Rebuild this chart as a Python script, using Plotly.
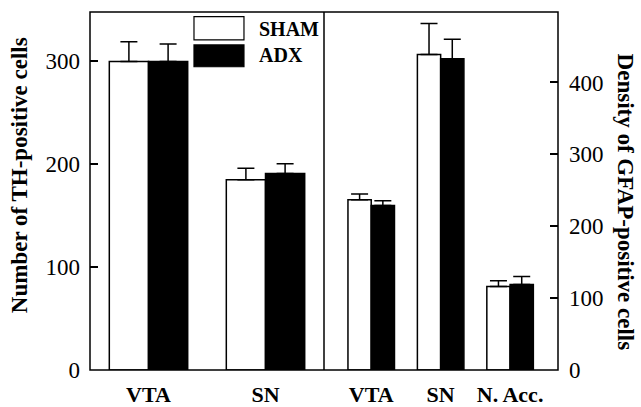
import plotly.graph_objects as go

# ---- data ----
series_names = ["SHAM", "ADX"]
th_categories = ["VTA", "SN"]
th_sham = [300, 185]
th_sham_err = [19, 11]
th_adx = [300, 191]
th_adx_err = [17, 9.5]

gfap_categories = ["VTA", "SN", "N. Acc."]
gfap_sham = [237, 439, 116]
gfap_sham_err = [8, 43, 8]
gfap_adx = [229, 433, 119]
gfap_adx_err = [6.5, 27, 11]

left_ticks = [0, 100, 200, 300]
right_ticks = [0, 100, 200, 300, 400]
left_title = "Number of TH-positive cells"
right_title = "Density of GFAP-positive cells"

FONT = "Liberation Serif"
fills = ["white", "black"]

fig = go.Figure()

def err(arr):
    return dict(type="data", symmetric=False, array=arr, arrayminus=[0] * len(arr),
                color="black", thickness=1.5, width=8.5)

fig.add_trace(go.Bar(x=th_categories, y=th_sham, name=series_names[0], marker=dict(color=fills[0], line=dict(color="black", width=1.5)),
                     error_y=err(th_sham_err), xaxis="x", yaxis="y", showlegend=False))
fig.add_trace(go.Bar(x=th_categories, y=th_adx, name=series_names[1], marker=dict(color=fills[1], line=dict(color="black", width=1.5)),
                     error_y=err(th_adx_err), xaxis="x", yaxis="y", showlegend=False))
fig.add_trace(go.Bar(x=gfap_categories, y=gfap_sham, name=series_names[0], marker=dict(color=fills[0], line=dict(color="black", width=1.5)),
                     error_y=err(gfap_sham_err), xaxis="x2", yaxis="y2", showlegend=False))
fig.add_trace(go.Bar(x=gfap_categories, y=gfap_adx, name=series_names[1], marker=dict(color=fills[1], line=dict(color="black", width=1.5)),
                     error_y=err(gfap_adx_err), xaxis="x2", yaxis="y2", showlegend=False))

tickfont = dict(family=FONT, size=23, color="black")
catfont = dict(family=FONT, size=22, color="black", weight="bold")

fig.update_layout(
    width=641, height=407,
    margin=dict(l=90, r=83, t=12, b=37, autoexpand=False),
    paper_bgcolor="white", plot_bgcolor="white",
    barmode="group", bargap=0.33, bargroupgap=0,
    xaxis=dict(domain=[0, 0.5], anchor="y", range=[-0.5, 1.5], showgrid=False, zeroline=False,
               ticks="", tickfont=catfont, ticklabelstandoff=9, showline=False),
    xaxis2=dict(domain=[0.5, 1], anchor="y2", range=[-0.68, 2.69], showgrid=False, zeroline=False,
                ticks="", tickfont=catfont, ticklabelstandoff=9, showline=False),
    yaxis=dict(range=[0, 348], tickvals=left_ticks, ticks="inside", ticklen=8, tickwidth=1.5, tickcolor="black",
               showgrid=False, zeroline=False, tickfont=tickfont, ticklabelstandoff=9, showline=False),
    yaxis2=dict(range=[0, 498], tickvals=right_ticks, ticks="inside", ticklen=8, tickwidth=1.5, tickcolor="black",
                side="right", anchor="x2", showgrid=False, zeroline=False, tickfont=tickfont,
                ticklabelstandoff=10, showline=False),
    shapes=[
        dict(type="rect", xref="paper", yref="paper", x0=0, x1=1, y0=0, y1=1, line=dict(color="black", width=1.5)),
        dict(type="line", xref="paper", yref="paper", x0=0.5, x1=0.5, y0=0, y1=1, line=dict(color="black", width=1.5)),
        dict(type="rect", xref="paper", yref="paper", x0=0.2222, x1=0.329, y0=0.922, y1=0.987,
             fillcolor=fills[0], line=dict(color="black", width=1.2)),
        dict(type="rect", xref="paper", yref="paper", x0=0.2222, x1=0.329, y0=0.847, y1=0.908,
             fillcolor=fills[1], line=dict(color="black", width=1.2)),
    ],
    annotations=[
        dict(text=series_names[0], xref="paper", yref="paper", x=0.357, y=0.952, xanchor="left", yanchor="middle",
             showarrow=False, font=dict(family=FONT, size=20, color="black", weight="bold")),
        dict(text=series_names[1], xref="paper", yref="paper", x=0.357, y=0.880, xanchor="left", yanchor="middle",
             showarrow=False, font=dict(family=FONT, size=20, color="black", weight="bold")),
        dict(text=left_title, xref="paper", yref="paper", x=-0.1506, y=0.543, xanchor="center", yanchor="middle",
             textangle=-90, showarrow=False, font=dict(family=FONT, size=23, color="black", weight="bold")),
        dict(text=right_title, xref="paper", yref="paper", x=1.145, y=0.468, xanchor="center", yanchor="middle",
             textangle=90, showarrow=False, font=dict(family=FONT, size=23, color="black", weight="bold")),
    ],
)

fig.write_html("out.html", config={"displayModeBar": False},
               post_script="document.body.style.margin='0';document.body.style.padding='0';")
